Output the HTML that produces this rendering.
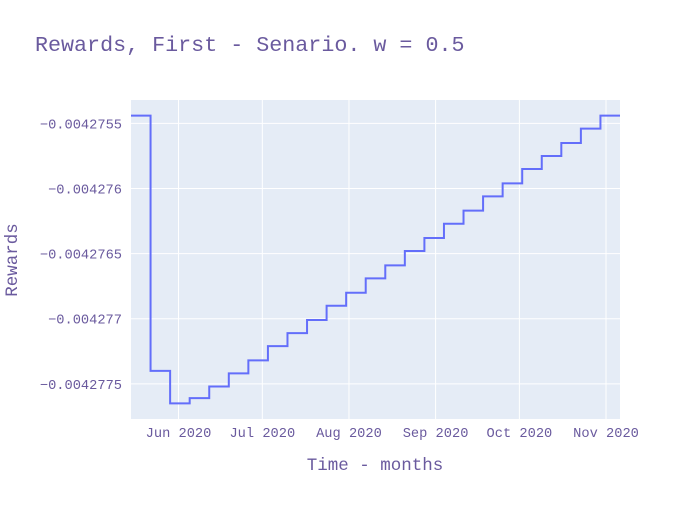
<!DOCTYPE html>
<html><head><meta charset="utf-8"><style>
body{margin:0;background:#fff}
svg text{font-family:"Liberation Mono","Courier New",monospace;fill:#6a5a9e}
</style></head><body>
<svg id="c" width="700" height="500" xmlns="http://www.w3.org/2000/svg">
<rect x="0" y="0" width="700" height="500" fill="#fff"/>
<text x="35" y="51" font-size="21.7">Rewards, First - Senario. w = 0.5</text>
<rect x="131" y="100" width="489" height="319" fill="#e5ecf6"/>
<g id="grid"></g>
<g id="series"></g>
<g id="ticks"></g>
<text x="375" y="470" font-size="17.5" text-anchor="middle">Time - months</text>
<text x="0" y="0" font-size="17.5" text-anchor="middle" transform="translate(17,260) rotate(-90)">Rewards</text>
</svg>
<script>
const startDate = "2020-05-15";
const weekCount = 26;
const rewards = [-0.00427544,-0.00427740,-0.00427765,-0.00427761,-0.00427752,-0.00427742,-0.00427732,-0.00427721,-0.00427711,-0.00427701,-0.00427690,-0.00427680,-0.00427669,-0.00427659,-0.00427648,-0.00427638,-0.00427627,-0.00427617,-0.00427606,-0.00427596,-0.00427585,-0.00427575,-0.00427565,-0.00427554,-0.00427544,-0.00427544];
const yTicks = [-0.0042755,-0.004276,-0.0042765,-0.004277,-0.0042775];
const yTickLabels = ["−0.0042755","−0.004276","−0.0042765","−0.004277","−0.0042775"];
const xTickDates = ["2020-06-01","2020-07-01","2020-08-01","2020-09-01","2020-10-01","2020-11-01"];
const xTickLabels = ["Jun 2020","Jul 2020","Aug 2020","Sep 2020","Oct 2020","Nov 2020"];

const NS="http://www.w3.org/2000/svg";
const X0=131,X1=620,Y0=100,Y1=419;
const day=86400000;
const t0=Date.parse(startDate), t1=t0+(weekCount-1)*7*day;
const yMin=-0.00427777, yMax=-0.00427532;
const xs=t=>X0+(t-t0)/(t1-t0)*(X1-X0);
const ys=v=>Y1-(v-yMin)/(yMax-yMin)*(Y1-Y0);
function mk(tag,attrs,parent){const e=document.createElementNS(NS,tag);for(const k in attrs)e.setAttribute(k,attrs[k]);parent.appendChild(e);return e;}
const grid=document.getElementById('grid'),ticks=document.getElementById('ticks'),series=document.getElementById('series');
yTicks.forEach((v,i)=>{
  const y=ys(v);
  const l=mk('line',{x1:X0,x2:X1,y1:y,y2:y,stroke:'#fff','stroke-width':1},grid);
  
  
  const t=mk('text',{x:122,y:y+5,'font-size':13.7,'text-anchor':'end'},ticks);
  t.textContent=yTickLabels[i];
  
  
});
xTickDates.forEach((d,i)=>{
  const x=xs(Date.parse(d));
  const l=mk('line',{x1:x,x2:x,y1:Y0,y2:Y1,stroke:'#fff','stroke-width':1},grid);
  
  
  const t=mk('text',{x:x,y:437,'font-size':13.7,'text-anchor':'middle'},ticks);
  t.textContent=xTickLabels[i];
  
  
});
let d='';
rewards.forEach((v,i)=>{
  const x=xs(t0+i*7*day),y=ys(v);
  if(i===0)d+='M'+x+','+y;else d+='H'+x+'V'+y;
});
const p=mk('path',{d:d,fill:'none',stroke:'#636efa','stroke-width':2},series);


</script>
</body></html>
